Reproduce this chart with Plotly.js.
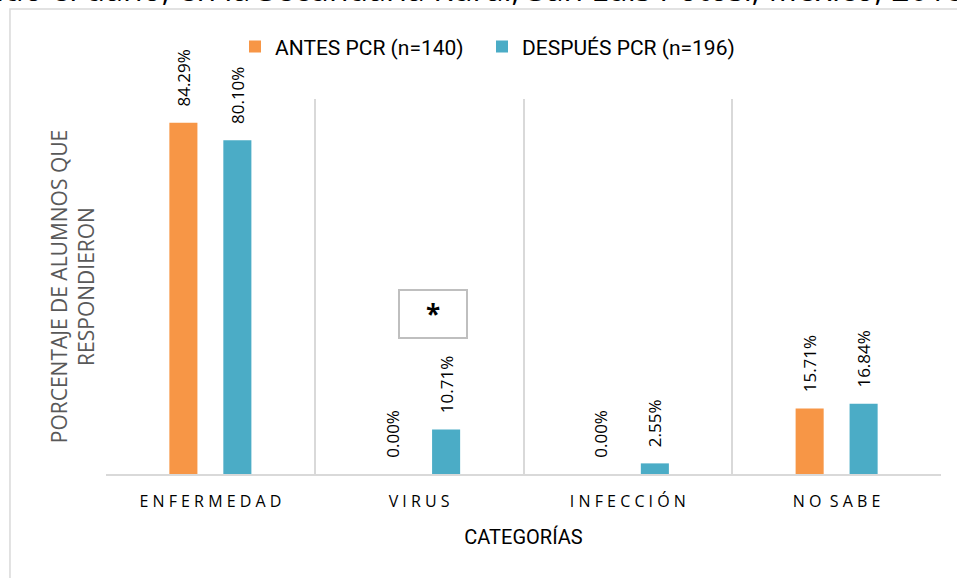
<!DOCTYPE html>
<html>
<head>
<meta charset="utf-8">
<script src="https://cdn.plot.ly/plotly-3.0.1.min.js"></script>
<style>
  html, body { margin: 0; padding: 0; background: #fff; }
  #chart { width: 957px; height: 578px; }
</style>
</head>
<body>
<div id="chart"></div>
<script>
var categories = ['ENFERMEDAD', 'VIRUS', 'INFECCIÓN', 'NO SABE'];
var tickLabels = ['E N F E R M E D A D', 'V I R U S', 'I N F E C C I Ó N', 'N O  S A B E'];
var antes = [84.29, 0.00, 0.00, 15.71];
var despues = [80.10, 10.71, 2.55, 16.84];
var seriesNames = ['ANTES PCR (n=140)', 'DESPUÉS PCR (n=196)'];

var pad = '\u00a0\u00a0\u00a0';

function barTrace(vals, name, color, legendId) {
  return {
    type: 'bar',
    x: categories,
    y: vals,
    name: name,
    legend: legendId,
    marker: {color: color},
    text: vals.map(function (v) { return pad + v.toFixed(2) + '%'; }),
    textposition: 'outside',
    textangle: -90,
    constraintext: 'none',
    cliponaxis: false,
    textfont: {family: 'Open Sans, sans-serif', size: 17, color: '#000'},
    hoverinfo: 'none'
  };
}

var data = [
  barTrace(antes, seriesNames[0], '#f79646', 'legend'),
  barTrace(despues, seriesNames[1], '#4bacc6', 'legend2')
];

var legendFont = {family: 'Roboto, sans-serif', size: 21, color: '#000'};

var layout = {
  width: 957,
  height: 578,
  margin: {l: 106, r: 16, t: 99, b: 104},
  paper_bgcolor: '#fff',
  plot_bgcolor: '#fff',
  barmode: 'group',
  bargap: 0.483,
  bargroupgap: 0.48,
  showlegend: true,
  legend: {
    orientation: 'h',
    x: 0.1545, xanchor: 'left',
    y: 1.139, yanchor: 'middle',
    font: legendFont
  },
  legend2: {
    orientation: 'h',
    x: 0.4503, xanchor: 'left',
    y: 1.139, yanchor: 'middle',
    font: legendFont
  },
  xaxis: {
    type: 'category',
    tickson: 'boundaries',
    tickvals: categories,
    ticktext: tickLabels,
    showgrid: true,
    gridcolor: '#d9d9d9',
    gridwidth: 2,
    showline: true,
    linecolor: '#d9d9d9',
    linewidth: 2,
    ticks: '',
    ticklabelstandoff: 12,
    tickfont: {family: 'Open Sans, sans-serif', size: 16, color: '#000'},
    title: {text: 'CATEGORÍAS', font: {family: 'Roboto, sans-serif', size: 20, color: '#000'}, standoff: 19}
  },
  yaxis: {
    range: [0, 90],
    showgrid: false,
    zeroline: false,
    showticklabels: false,
    ticks: '',
    title: {
      text: 'PORCENTAJE DE ALUMNOS QUE<br>RESPONDIERON',
      font: {family: 'Open Sans, sans-serif', size: 21, color: '#595959'},
      standoff: 4
    }
  },
  shapes: [{
    type: 'rect', xref: 'paper', yref: 'paper',
    x0: -0.115, x1: 1.06, y0: -0.35, y1: 1.24,
    line: {color: '#d9d9d9', width: 1.5}, fillcolor: 'rgba(0,0,0,0)', layer: 'below'
  }],
  annotations: [{
    xref: 'paper', yref: 'paper',
    x: 1.03, xanchor: 'right',
    y: 1.2307, yanchor: 'bottom',
    text: 'ido el daño, en la Secundaria Rural, San Luis Potosí, México, 2018',
    showarrow: false,
    font: {family: 'Open Sans, sans-serif', size: 32, color: '#000'}
  }, {
    xref: 'x', yref: 'y',
    x: 1.065, y: 38.3,
    text: '<b>*</b>',
    showarrow: false,
    width: 64, height: 44,
    bordercolor: '#bfbfbf', borderwidth: 2,
    bgcolor: '#fff',
    font: {family: 'Open Sans, sans-serif', size: 26, color: '#000'}
  }]
};

Plotly.newPlot('chart', data, layout, {displayModeBar: false});
</script>
</body>
</html>
